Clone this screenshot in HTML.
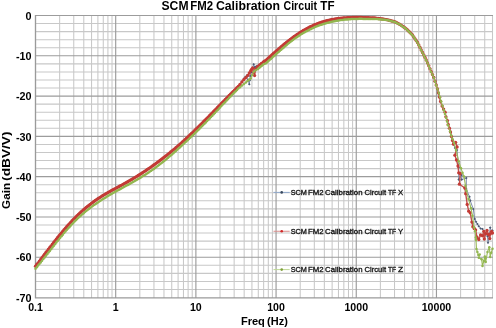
<!DOCTYPE html>
<html><head><meta charset="utf-8"><style>html,body{margin:0;padding:0;background:#fff;width:496px;height:328px;overflow:hidden}</style></head>
<body><svg width="496" height="328" viewBox="0 0 496 328" style="display:block;will-change:transform"><path d="M35.00 23.56H493.00M35.00 31.62H493.00M35.00 39.67H493.00M35.00 47.73H493.00M35.00 63.85H493.00M35.00 71.91H493.00M35.00 79.96H493.00M35.00 88.02H493.00M35.00 104.14H493.00M35.00 112.20H493.00M35.00 120.25H493.00M35.00 128.31H493.00M35.00 144.43H493.00M35.00 152.49H493.00M35.00 160.54H493.00M35.00 168.60H493.00M35.00 184.72H493.00M35.00 192.78H493.00M35.00 200.83H493.00M35.00 208.89H493.00M35.00 225.01H493.00M35.00 233.07H493.00M35.00 241.12H493.00M35.00 249.18H493.00M35.00 265.30H493.00M35.00 273.36H493.00M35.00 281.41H493.00M35.00 289.47H493.00M59.64 15.00V298.03M73.76 15.00V298.03M83.78 15.00V298.03M91.55 15.00V298.03M97.90 15.00V298.03M103.27 15.00V298.03M107.92 15.00V298.03M112.02 15.00V298.03M139.83 15.00V298.03M153.95 15.00V298.03M163.97 15.00V298.03M171.74 15.00V298.03M178.09 15.00V298.03M183.46 15.00V298.03M188.11 15.00V298.03M192.21 15.00V298.03M220.02 15.00V298.03M234.14 15.00V298.03M244.16 15.00V298.03M251.93 15.00V298.03M258.28 15.00V298.03M263.65 15.00V298.03M268.30 15.00V298.03M272.40 15.00V298.03M300.21 15.00V298.03M314.33 15.00V298.03M324.35 15.00V298.03M332.12 15.00V298.03M338.47 15.00V298.03M343.84 15.00V298.03M348.49 15.00V298.03M352.59 15.00V298.03M380.40 15.00V298.03M394.52 15.00V298.03M404.54 15.00V298.03M412.31 15.00V298.03M418.66 15.00V298.03M424.03 15.00V298.03M428.68 15.00V298.03M432.78 15.00V298.03M460.59 15.00V298.03M474.71 15.00V298.03M484.73 15.00V298.03M492.50 15.00V298.03" stroke="#c8c8c8" stroke-width="1.05" fill="none"/>
<path d="M35.00 15.50H493.00M35.00 55.79H493.00M35.00 96.08H493.00M35.00 136.37H493.00M35.00 176.66H493.00M35.00 216.95H493.00M35.00 257.24H493.00M35.50 15.00V298.03M115.69 15.00V298.03M195.88 15.00V298.03M276.07 15.00V298.03M356.26 15.00V298.03M436.45 15.00V298.03" stroke="#9c9c9c" stroke-width="1.15" fill="none"/>
<path d="M35.50 15.00V297.93H493.00" stroke="#9a9a9a" stroke-width="1.2" fill="none"/>
<defs>
<marker id="mb" markerUnits="userSpaceOnUse" markerWidth="4" markerHeight="4" refX="2" refY="2" overflow="visible"><path d="M2 0.7L3.3 2L2 3.3L0.7 2Z" fill="#4d5a73"/></marker>
<marker id="mr" markerUnits="userSpaceOnUse" markerWidth="4" markerHeight="4" refX="2" refY="2" overflow="visible"><circle cx="2" cy="2" r="1.65" fill="#c33b36"/></marker>
<marker id="mg" markerUnits="userSpaceOnUse" markerWidth="4" markerHeight="4" refX="2" refY="2" overflow="visible"><circle cx="2" cy="2" r="1.25" fill="#92b650"/></marker>
</defs>
<polyline points="35.5,266.2 36.8,264.5 38.1,262.8 39.4,261.1 40.7,259.4 42.0,257.6 43.3,255.9 44.6,254.2 45.9,252.5 47.2,250.8 48.5,249.1 49.8,247.4 51.1,245.8 52.4,244.1 53.7,242.4 55.0,240.8 56.3,239.2 57.6,237.5 58.9,235.9 60.2,234.3 61.5,232.8 62.8,231.2 64.1,229.7 65.4,228.2 66.7,226.7 68.0,225.2 69.3,223.8 70.6,222.4 71.9,221.0 73.2,219.6 74.5,218.3 75.8,217.0 77.1,215.7 78.4,214.4 79.7,213.2 81.0,212.0 82.3,210.8 83.6,209.7 84.9,208.6 86.2,207.5 87.5,206.4 88.8,205.4 90.1,204.4 91.4,203.4 92.7,202.4 94.0,201.4 95.3,200.5 96.6,199.6 97.9,198.7 99.2,197.9 100.5,197.1 101.8,196.2 103.1,195.4 104.4,194.6 105.7,193.9 107.0,193.1 108.3,192.4 109.6,191.6 110.9,190.9 112.2,190.2 113.5,189.5 114.8,188.8 116.1,188.1 117.4,187.4 118.7,186.7 120.0,186.0 121.3,185.3 122.6,184.6 123.9,183.8 125.2,183.1 126.5,182.4 127.8,181.7 129.1,180.9 130.4,180.2 131.7,179.4 133.0,178.6 134.3,177.8 135.6,177.1 136.9,176.3 138.2,175.5 139.5,174.6 140.8,173.8 142.1,173.0 143.4,172.1 144.7,171.3 146.0,170.4 147.3,169.5 148.6,168.6 149.9,167.8 151.2,166.8 152.5,165.9 153.8,165.0 155.1,164.1 156.4,163.1 157.7,162.2 159.0,161.2 160.3,160.2 161.6,159.2 162.9,158.2 164.2,157.2 165.5,156.2 166.8,155.2 168.1,154.1 169.4,153.1 170.7,152.0 172.0,151.0 173.3,149.9 174.6,148.8 175.9,147.7 177.2,146.6 178.5,145.4 179.8,144.3 181.1,143.1 182.4,142.0 183.7,140.8 185.0,139.6 186.3,138.4 187.6,137.2 188.9,136.0 190.2,134.7 191.5,133.5 192.8,132.3 194.1,131.0 195.4,129.7 196.7,128.5 198.0,127.2 199.3,125.9 200.6,124.6 201.9,123.3 203.2,122.0 204.5,120.7 205.8,119.4 207.1,118.1 208.4,116.8 209.7,115.4 211.0,114.1 212.3,112.8 213.6,111.5 214.9,110.1 216.2,108.8 217.5,107.5 218.8,106.1 220.1,104.8 221.4,103.5 222.7,102.1 224.0,100.8 225.3,99.5 226.6,98.2 227.9,96.8 229.2,95.5 230.5,94.2 231.8,92.9 233.1,91.6 234.4,90.3 235.7,89.0 237.0,87.7 238.3,86.5 240.0,84.3 241.9,81.9 243.9,78.5 245.4,77.0 246.8,75.6 248.1,79.9 249.3,84.3 249.8,80.2 250.2,76.0 251.4,72.1 252.5,68.2 253.7,64.3 254.6,67.3 255.8,66.7 257.1,66.0 258.3,65.4 259.5,64.8 261.5,63.3 263.4,61.8 264.5,61.2 265.6,60.6 266.9,59.4 268.2,58.2 269.5,57.0 270.8,55.9 272.1,54.7 273.4,53.5 274.7,52.4 276.0,51.2 277.3,50.1 278.6,49.0 279.9,47.8 281.2,46.7 282.5,45.6 283.8,44.5 285.1,43.5 286.4,42.4 287.7,41.4 289.0,40.4 290.3,39.4 291.6,38.4 292.9,37.4 294.2,36.5 295.5,35.6 296.8,34.7 298.1,33.8 299.4,32.9 300.7,32.1 302.0,31.3 303.3,30.5 304.6,29.8 305.9,29.1 307.2,28.4 308.5,27.7 309.8,27.0 311.1,26.4 312.4,25.8 313.7,25.2 315.0,24.6 316.3,24.1 317.6,23.6 318.9,23.1 320.2,22.7 321.5,22.2 322.8,21.8 324.1,21.4 325.4,21.1 326.7,20.7 328.0,20.4 329.3,20.1 330.6,19.8 331.9,19.5 333.2,19.3 334.5,19.1 335.8,18.9 337.1,18.7 338.4,18.5 339.7,18.3 341.0,18.2 342.3,18.1 343.6,18.0 344.9,17.9 346.2,17.8 347.5,17.7 348.8,17.6 350.1,17.6 351.4,17.6 352.7,17.5 354.0,17.5 355.3,17.5 356.6,17.5 357.9,17.5 359.2,17.5 360.5,17.5 361.8,17.5 363.1,17.6 364.4,17.6 365.7,17.6 367.0,17.7 368.3,17.7 369.6,17.8 370.9,17.8 372.2,17.9 373.4,18.0 374.7,18.0 376.0,18.1 377.3,18.3 378.6,18.5 379.8,18.7 381.1,18.8 382.4,19.0 383.7,19.2 384.9,19.4 386.2,19.6 387.5,19.8 388.8,20.1 390.0,20.5 391.2,20.8 392.5,21.2 393.8,21.5 395.0,21.9 396.2,22.5 397.5,23.1 398.8,23.8 400.0,24.4 401.2,25.3 402.5,26.1 403.8,27.0 405.0,27.9 406.2,28.8 407.5,30.0 408.8,31.2 410.0,32.5 411.2,33.8 412.5,35.0 413.8,36.9 415.0,38.8 416.2,40.6 417.5,42.5 418.8,45.0 420.0,47.5 421.2,50.0 422.5,52.5 423.8,55.0 425.0,57.5 426.2,60.0 427.5,62.9 428.8,65.8 430.0,68.8 431.2,71.7 432.5,74.6 433.8,77.5 435.0,81.2 436.2,85.0 437.5,88.8 438.5,93.0 439.6,97.2 440.6,101.5 442.1,106.1 443.6,109.1 445.1,112.2 445.9,116.8 447.4,120.6 448.2,124.4 449.4,128.2 450.5,132.0 451.5,136.6 452.5,140.4 453.5,144.2 455.0,148.0 457.0,150.0 458.7,167.4 458.7,179.6 461.7,175.0 461.7,179.6 466.3,178.0 466.3,189.0 469.5,196.8 470.2,200.6 473.3,209.0 474.7,218.9 476.0,221.7 477.4,224.0 478.8,226.2 480.6,228.5 482.5,229.0 485.2,233.6 487.5,236.3 488.0,242.7 489.3,236.3 490.2,227.6 491.6,231.7 492.5,230.5" stroke="#7d8cab" stroke-width="1.0" fill="none" stroke-linejoin="round" marker-start="url(#mb)" marker-mid="url(#mb)" marker-end="url(#mb)"/>
<polyline points="35.5,266.2 36.8,264.5 38.1,262.8 39.4,261.1 40.7,259.4 42.0,257.6 43.3,255.9 44.6,254.2 45.9,252.5 47.2,250.8 48.5,249.1 49.8,247.4 51.1,245.8 52.4,244.1 53.7,242.4 55.0,240.8 56.3,239.2 57.6,237.5 58.9,235.9 60.2,234.3 61.5,232.8 62.8,231.2 64.1,229.7 65.4,228.2 66.7,226.7 68.0,225.2 69.3,223.8 70.6,222.4 71.9,221.0 73.2,219.6 74.5,218.3 75.8,217.0 77.1,215.7 78.4,214.4 79.7,213.2 81.0,212.0 82.3,210.8 83.6,209.7 84.9,208.6 86.2,207.5 87.5,206.4 88.8,205.4 90.1,204.4 91.4,203.4 92.7,202.4 94.0,201.4 95.3,200.5 96.6,199.6 97.9,198.7 99.2,197.9 100.5,197.1 101.8,196.2 103.1,195.4 104.4,194.6 105.7,193.9 107.0,193.1 108.3,192.4 109.6,191.6 110.9,190.9 112.2,190.2 113.5,189.5 114.8,188.8 116.1,188.1 117.4,187.4 118.7,186.7 120.0,186.0 121.3,185.3 122.6,184.6 123.9,183.8 125.2,183.1 126.5,182.4 127.8,181.7 129.1,180.9 130.4,180.2 131.7,179.4 133.0,178.6 134.3,177.8 135.6,177.1 136.9,176.3 138.2,175.5 139.5,174.6 140.8,173.8 142.1,173.0 143.4,172.1 144.7,171.3 146.0,170.4 147.3,169.5 148.6,168.6 149.9,167.8 151.2,166.8 152.5,165.9 153.8,165.0 155.1,164.1 156.4,163.1 157.7,162.2 159.0,161.2 160.3,160.2 161.6,159.2 162.9,158.2 164.2,157.2 165.5,156.2 166.8,155.2 168.1,154.1 169.4,153.1 170.7,152.0 172.0,151.0 173.3,149.9 174.6,148.8 175.9,147.7 177.2,146.6 178.5,145.4 179.8,144.3 181.1,143.1 182.4,142.0 183.7,140.8 185.0,139.6 186.3,138.4 187.6,137.2 188.9,136.0 190.2,134.7 191.5,133.5 192.8,132.3 194.1,131.0 195.4,129.7 196.7,128.5 198.0,127.2 199.3,125.9 200.6,124.6 201.9,123.3 203.2,122.0 204.5,120.7 205.8,119.4 207.1,118.1 208.4,116.8 209.7,115.4 211.0,114.1 212.3,112.8 213.6,111.5 214.9,110.1 216.2,108.8 217.5,107.5 218.8,106.1 220.1,104.8 221.4,103.5 222.7,102.1 224.0,100.8 225.3,99.5 226.6,98.2 227.9,96.8 229.2,95.5 230.5,94.2 231.8,92.9 233.1,91.6 234.4,90.3 235.7,89.0 237.0,87.7 238.3,86.5 240.0,84.3 241.9,81.9 243.9,79.6 245.8,77.6 247.8,75.4 249.3,73.0 250.7,70.7 251.7,69.2 252.7,67.9 253.6,72.5 254.6,75.6 255.6,68.9 257.5,66.7 259.5,64.8 261.5,63.3 263.4,61.8 264.5,61.2 265.6,60.6 266.9,59.4 268.2,58.2 269.5,57.0 270.8,55.9 272.1,54.7 273.4,53.5 274.7,52.4 276.0,51.2 277.3,50.1 278.6,49.0 279.9,47.8 281.2,46.7 282.5,45.6 283.8,44.5 285.1,43.5 286.4,42.4 287.7,41.4 289.0,40.4 290.3,39.4 291.6,38.4 292.9,37.4 294.2,36.5 295.5,35.6 296.8,34.7 298.1,33.8 299.4,32.9 300.7,32.1 302.0,31.3 303.3,30.5 304.6,29.8 305.9,29.1 307.2,28.4 308.5,27.7 309.8,27.0 311.1,26.4 312.4,25.8 313.7,25.2 315.0,24.6 316.3,24.1 317.6,23.6 318.9,23.1 320.2,22.7 321.5,22.2 322.8,21.8 324.1,21.4 325.4,21.1 326.7,20.7 328.0,20.4 329.3,20.1 330.6,19.8 331.9,19.5 333.2,19.3 334.5,19.1 335.8,18.9 337.1,18.7 338.4,18.5 339.7,18.3 341.0,18.2 342.3,18.1 343.6,18.0 344.9,17.9 346.2,17.8 347.5,17.7 348.8,17.6 350.1,17.6 351.4,17.6 352.7,17.5 354.0,17.5 355.3,17.5 356.6,17.5 357.9,17.5 359.2,17.5 360.5,17.5 361.8,17.5 363.1,17.6 364.4,17.6 365.7,17.6 367.0,17.7 368.3,17.7 369.6,17.8 370.9,17.8 372.2,17.9 373.4,18.0 374.7,18.0 376.0,18.1 377.3,18.3 378.6,18.5 379.8,18.7 381.1,18.8 382.4,19.0 383.7,19.2 384.9,19.4 386.2,19.6 387.5,19.8 388.8,20.1 390.0,20.5 391.2,20.8 392.5,21.2 393.8,21.5 395.0,21.9 396.2,22.5 397.5,23.1 398.8,23.8 400.0,24.4 401.2,25.3 402.5,26.1 403.8,27.0 405.0,27.9 406.2,28.8 407.5,30.0 408.8,31.2 410.0,32.5 411.2,33.8 412.5,35.0 413.8,36.9 415.0,38.8 416.2,40.6 417.5,42.5 418.8,45.0 420.0,47.5 421.2,50.0 422.5,52.5 423.8,55.0 425.0,57.5 426.2,60.0 427.5,62.9 428.8,65.8 430.0,68.8 431.2,71.7 432.5,74.6 433.8,77.5 435.0,81.2 436.2,85.0 437.5,88.8 438.5,93.0 439.6,97.2 440.6,101.5 442.1,106.1 443.6,109.1 445.1,112.2 445.9,116.8 447.4,120.6 448.2,124.4 449.4,128.2 450.5,132.0 451.5,136.6 452.5,140.4 453.5,144.2 455.6,142.3 457.1,146.9 454.9,155.2 456.5,160.0 458.0,166.0 458.7,172.8 460.2,173.5 459.4,184.2 464.8,188.0 465.7,193.7 467.2,204.4 468.7,211.2 470.2,212.8 471.9,222.1 472.9,226.7 474.2,228.5 475.6,229.9 477.0,237.2 478.8,239.5 480.6,234.9 482.5,235.8 483.8,231.3 484.3,239.0 485.7,233.6 487.0,230.4 488.4,234.5 489.8,238.6 490.2,234.0 491.6,231.3 492.5,233.1" stroke="#c0504d" stroke-width="1.4" fill="none" stroke-linejoin="round" marker-start="url(#mr)" marker-mid="url(#mr)" marker-end="url(#mr)"/>
<polyline points="35.5,268.8 36.8,267.2 38.1,265.6 39.4,264.0 40.7,262.4 42.0,260.8 43.3,259.1 44.6,257.5 45.9,255.8 47.2,254.2 48.5,252.5 49.8,250.9 51.1,249.2 52.4,247.6 53.7,245.9 55.0,244.3 56.3,242.6 57.6,241.0 58.9,239.4 60.2,237.8 61.5,236.2 62.8,234.7 64.1,233.1 65.4,231.6 66.7,230.1 68.0,228.6 69.3,227.2 70.6,225.7 71.9,224.3 73.2,223.0 74.5,221.6 75.8,220.3 77.1,219.1 78.4,217.8 79.7,216.6 81.0,215.5 82.3,214.3 83.6,213.2 84.9,212.1 86.2,211.0 87.5,210.0 88.8,209.0 90.1,208.0 91.4,207.0 92.7,206.0 94.0,205.1 95.3,204.2 96.6,203.3 97.9,202.4 99.2,201.5 100.5,200.7 101.8,199.8 103.1,199.0 104.4,198.2 105.7,197.4 107.0,196.6 108.3,195.8 109.6,195.1 110.9,194.3 112.2,193.6 113.5,192.8 114.8,192.1 116.1,191.3 117.4,190.6 118.7,189.9 120.0,189.2 121.3,188.5 122.6,187.7 123.9,187.0 125.2,186.3 126.5,185.6 127.8,184.9 129.1,184.2 130.4,183.4 131.7,182.7 133.0,182.0 134.3,181.2 135.6,180.5 136.9,179.7 138.2,179.0 139.5,178.2 140.8,177.4 142.1,176.6 143.4,175.8 144.7,175.0 146.0,174.2 147.3,173.3 148.6,172.5 149.9,171.6 151.2,170.7 152.5,169.8 153.8,168.9 155.1,168.0 156.4,167.0 157.7,166.0 159.0,165.1 160.3,164.1 161.6,163.0 162.9,162.0 164.2,160.9 165.5,159.9 166.8,158.8 168.1,157.7 169.4,156.6 170.7,155.5 172.0,154.4 173.3,153.2 174.6,152.1 175.9,150.9 177.2,149.7 178.5,148.6 179.8,147.4 181.1,146.2 182.4,145.0 183.7,143.8 185.0,142.6 186.3,141.4 187.6,140.2 188.9,139.0 190.2,137.7 191.5,136.5 192.8,135.2 194.1,134.0 195.4,132.7 196.7,131.5 198.0,130.2 199.3,128.9 200.6,127.6 201.9,126.3 203.2,125.0 204.5,123.7 205.8,122.4 207.1,121.1 208.4,119.7 209.7,118.4 211.0,117.0 212.3,115.7 213.6,114.3 214.9,112.9 216.2,111.5 217.5,110.2 218.8,108.8 220.1,107.4 221.4,106.0 222.7,104.6 224.0,103.3 225.3,101.9 226.6,100.5 227.9,99.2 229.2,97.8 230.5,96.5 231.8,95.1 233.1,93.8 234.4,92.5 235.7,91.2 237.0,89.9 238.3,88.6 240.0,87.3 242.0,85.6 244.0,84.0 245.9,82.4 247.5,81.0 249.1,79.8 250.7,78.5 252.2,75.0 253.7,71.7 255.6,70.3 257.6,69.2 258.6,68.3 259.7,67.5 260.8,66.6 261.8,65.7 262.9,64.8 264.0,63.9 265.6,63.5 266.9,62.4 268.2,61.2 269.5,60.1 270.8,58.9 272.1,57.8 273.4,56.6 274.7,55.4 276.0,54.3 277.3,53.1 278.6,52.0 279.9,50.8 281.2,49.7 282.5,48.5 283.8,47.4 285.1,46.3 286.4,45.2 287.7,44.1 289.0,43.1 290.3,42.0 291.6,41.0 292.9,40.0 294.2,39.1 295.5,38.1 296.8,37.2 298.1,36.3 299.4,35.5 300.7,34.6 302.0,33.8 303.3,33.1 304.6,32.3 305.9,31.6 307.2,30.9 308.5,30.2 309.8,29.5 311.1,28.9 312.4,28.3 313.7,27.7 315.0,27.1 316.3,26.6 317.6,26.1 318.9,25.6 320.2,25.1 321.5,24.7 322.8,24.2 324.1,23.8 325.4,23.4 326.7,23.0 328.0,22.7 329.3,22.4 330.6,22.0 331.9,21.7 333.2,21.4 334.5,21.2 335.8,20.9 337.1,20.7 338.4,20.5 339.7,20.3 341.0,20.1 342.3,19.9 343.6,19.8 344.9,19.6 346.2,19.5 347.5,19.4 348.8,19.3 350.1,19.2 351.4,19.1 352.7,19.0 354.0,19.0 355.3,18.9 356.6,18.9 357.9,18.9 359.2,18.8 360.5,18.8 361.8,18.8 363.1,18.9 364.4,18.9 365.7,18.9 367.0,18.9 368.3,19.0 369.6,19.0 370.9,19.0 372.2,19.0 373.4,19.0 374.7,19.0 376.0,19.0 377.3,19.1 378.6,19.2 379.8,19.3 381.1,19.4 382.4,19.6 383.7,19.7 384.9,19.8 386.2,19.9 387.5,20.0 388.8,20.4 390.0,20.7 391.2,21.1 392.5,21.4 393.8,21.8 395.0,22.1 396.2,22.7 397.5,23.4 398.8,24.0 400.0,24.6 401.2,25.5 402.5,26.4 403.8,27.2 405.0,28.1 406.2,29.0 407.5,30.2 408.8,31.5 410.0,32.7 411.2,34.0 412.5,35.2 413.8,37.1 415.0,39.0 416.2,40.8 417.5,42.7 418.8,45.2 420.0,47.7 421.2,50.2 422.5,52.7 423.8,55.2 425.0,57.7 426.2,60.2 427.5,63.1 428.8,66.1 430.0,69.0 431.2,71.9 432.5,74.8 433.8,77.7 435.0,81.5 436.2,85.2 437.5,89.0 438.8,93.0 440.0,97.0 441.2,101.4 442.5,105.8 443.8,110.2 445.0,114.0 446.2,117.7 447.1,121.5 448.0,125.2 450.0,131.4 451.2,135.2 452.5,139.0 454.1,143.0 456.0,150.0 458.7,161.3 461.0,168.2 462.5,172.8 464.0,176.6 465.5,185.7 466.4,190.7 468.5,199.0 471.0,208.2 472.5,215.8 474.0,227.3 475.0,231.2 475.8,237.5 476.0,240.0 476.5,249.1 477.4,251.9 478.4,255.1 479.7,254.6 478.8,257.8 481.6,259.2 482.5,266.1 483.8,261.0 484.8,256.5 485.2,258.3 485.7,262.0 487.5,251.9 489.3,247.3 490.2,256.9 491.2,252.8 492.5,248.7" stroke="#9bbb59" stroke-width="1.1" fill="none" stroke-linejoin="round" marker-start="url(#mg)" marker-mid="url(#mg)" marker-end="url(#mg)"/>
<text x="161.5" y="9.9" font-family="&apos;Liberation Sans&apos;, sans-serif" font-weight="bold" font-size="12.5" textLength="27.0" lengthAdjust="spacingAndGlyphs" fill="#000" >SCM</text><text x="190.3" y="9.9" font-family="&apos;Liberation Sans&apos;, sans-serif" font-weight="bold" font-size="12.5" textLength="22.8" lengthAdjust="spacingAndGlyphs" fill="#000" >FM2</text><text x="215.9" y="9.9" font-family="&apos;Liberation Sans&apos;, sans-serif" font-weight="bold" font-size="12.5" textLength="64.2" lengthAdjust="spacingAndGlyphs" fill="#000" >Calibration</text><text x="283.5" y="9.9" font-family="&apos;Liberation Sans&apos;, sans-serif" font-weight="bold" font-size="12.5" textLength="33.6" lengthAdjust="spacingAndGlyphs" fill="#000" >Circuit</text><text x="320.3" y="9.9" font-family="&apos;Liberation Sans&apos;, sans-serif" font-weight="bold" font-size="12.5" textLength="14.2" lengthAdjust="spacingAndGlyphs" fill="#000" >TF</text>
<text x="31.6" y="19.70" font-family="&apos;Liberation Sans&apos;, sans-serif" font-weight="bold" font-size="10.8" text-anchor="end" fill="#000">0</text>
<text x="31.6" y="59.99" font-family="&apos;Liberation Sans&apos;, sans-serif" font-weight="bold" font-size="10.8" text-anchor="end" fill="#000">-10</text>
<text x="31.6" y="100.28" font-family="&apos;Liberation Sans&apos;, sans-serif" font-weight="bold" font-size="10.8" text-anchor="end" fill="#000">-20</text>
<text x="31.6" y="140.57" font-family="&apos;Liberation Sans&apos;, sans-serif" font-weight="bold" font-size="10.8" text-anchor="end" fill="#000">-30</text>
<text x="31.6" y="180.86" font-family="&apos;Liberation Sans&apos;, sans-serif" font-weight="bold" font-size="10.8" text-anchor="end" fill="#000">-40</text>
<text x="31.6" y="221.15" font-family="&apos;Liberation Sans&apos;, sans-serif" font-weight="bold" font-size="10.8" text-anchor="end" fill="#000">-50</text>
<text x="31.6" y="261.44" font-family="&apos;Liberation Sans&apos;, sans-serif" font-weight="bold" font-size="10.8" text-anchor="end" fill="#000">-60</text>
<text x="31.6" y="301.73" font-family="&apos;Liberation Sans&apos;, sans-serif" font-weight="bold" font-size="10.8" text-anchor="end" fill="#000">-70</text>
<text x="35.50" y="311.3" font-family="&apos;Liberation Sans&apos;, sans-serif" font-weight="bold" font-size="10.6" text-anchor="middle" fill="#000">0.1</text>
<text x="115.69" y="311.3" font-family="&apos;Liberation Sans&apos;, sans-serif" font-weight="bold" font-size="10.6" text-anchor="middle" fill="#000">1</text>
<text x="195.88" y="311.3" font-family="&apos;Liberation Sans&apos;, sans-serif" font-weight="bold" font-size="10.6" text-anchor="middle" fill="#000">10</text>
<text x="276.07" y="311.3" font-family="&apos;Liberation Sans&apos;, sans-serif" font-weight="bold" font-size="10.6" text-anchor="middle" fill="#000">100</text>
<text x="356.26" y="311.3" font-family="&apos;Liberation Sans&apos;, sans-serif" font-weight="bold" font-size="10.6" text-anchor="middle" fill="#000">1000</text>
<text x="436.45" y="311.3" font-family="&apos;Liberation Sans&apos;, sans-serif" font-weight="bold" font-size="10.6" text-anchor="middle" fill="#000">10000</text>
<text x="240.9" y="324.7" font-family="&apos;Liberation Sans&apos;, sans-serif" font-weight="bold" font-size="10.4" textLength="24.0" lengthAdjust="spacingAndGlyphs" fill="#000" >Freq</text><text x="267.1" y="324.7" font-family="&apos;Liberation Sans&apos;, sans-serif" font-weight="bold" font-size="10.4" textLength="20.8" lengthAdjust="spacingAndGlyphs" fill="#000" >(Hz)</text>
<g transform="translate(10.1,209.2) rotate(-90)"><text x="0.3" y="0" font-family="&apos;Liberation Sans&apos;, sans-serif" font-weight="bold" font-size="10.4" textLength="26.0" lengthAdjust="spacingAndGlyphs" fill="#000" >Gain</text><text x="28.3" y="0" font-family="&apos;Liberation Sans&apos;, sans-serif" font-weight="bold" font-size="10.4" textLength="49.4" lengthAdjust="spacingAndGlyphs" fill="#000" >(dBV/V)</text></g>
<path d="M273.5 192.4H289.7" stroke="#8fa8cc" stroke-width="1"/>
<circle cx="281.7" cy="192.4" r="1.3" fill="#3a4a60"/>
<text x="290.7" y="195.0" font-family="&apos;Liberation Sans&apos;, sans-serif" font-weight="normal" font-size="7.3" textLength="16.2" lengthAdjust="spacingAndGlyphs" fill="#111" stroke="#111" stroke-width="0.3">SCM</text><text x="308.1" y="195.0" font-family="&apos;Liberation Sans&apos;, sans-serif" font-weight="normal" font-size="7.3" textLength="15.6" lengthAdjust="spacingAndGlyphs" fill="#111" stroke="#111" stroke-width="0.3">FM2</text><text x="325.1" y="195.0" font-family="&apos;Liberation Sans&apos;, sans-serif" font-weight="normal" font-size="7.3" textLength="37.4" lengthAdjust="spacingAndGlyphs" fill="#111" stroke="#111" stroke-width="0.3">Calibration</text><text x="364.5" y="195.0" font-family="&apos;Liberation Sans&apos;, sans-serif" font-weight="normal" font-size="7.3" textLength="21.6" lengthAdjust="spacingAndGlyphs" fill="#111" stroke="#111" stroke-width="0.3">Circuit</text><text x="387.9" y="195.0" font-family="&apos;Liberation Sans&apos;, sans-serif" font-weight="normal" font-size="7.3" textLength="8.2" lengthAdjust="spacingAndGlyphs" fill="#111" stroke="#111" stroke-width="0.3">TF</text><text x="398.1" y="195.0" font-family="&apos;Liberation Sans&apos;, sans-serif" font-weight="normal" font-size="7.3" textLength="5.2" lengthAdjust="spacingAndGlyphs" fill="#111" stroke="#111" stroke-width="0.3">X</text>
<path d="M273.5 231.25H289.7" stroke="#d98c8a" stroke-width="1"/>
<circle cx="281.7" cy="231.25" r="1.3" fill="#d02828"/>
<text x="290.7" y="233.7" font-family="&apos;Liberation Sans&apos;, sans-serif" font-weight="normal" font-size="7.3" textLength="16.2" lengthAdjust="spacingAndGlyphs" fill="#111" stroke="#111" stroke-width="0.3">SCM</text><text x="308.1" y="233.7" font-family="&apos;Liberation Sans&apos;, sans-serif" font-weight="normal" font-size="7.3" textLength="15.6" lengthAdjust="spacingAndGlyphs" fill="#111" stroke="#111" stroke-width="0.3">FM2</text><text x="325.1" y="233.7" font-family="&apos;Liberation Sans&apos;, sans-serif" font-weight="normal" font-size="7.3" textLength="37.4" lengthAdjust="spacingAndGlyphs" fill="#111" stroke="#111" stroke-width="0.3">Calibration</text><text x="364.5" y="233.7" font-family="&apos;Liberation Sans&apos;, sans-serif" font-weight="normal" font-size="7.3" textLength="21.6" lengthAdjust="spacingAndGlyphs" fill="#111" stroke="#111" stroke-width="0.3">Circuit</text><text x="387.9" y="233.7" font-family="&apos;Liberation Sans&apos;, sans-serif" font-weight="normal" font-size="7.3" textLength="8.2" lengthAdjust="spacingAndGlyphs" fill="#111" stroke="#111" stroke-width="0.3">TF</text><text x="398.1" y="233.7" font-family="&apos;Liberation Sans&apos;, sans-serif" font-weight="normal" font-size="7.3" textLength="5.2" lengthAdjust="spacingAndGlyphs" fill="#111" stroke="#111" stroke-width="0.3">Y</text>
<path d="M273.5 269.6H289.7" stroke="#bdd892" stroke-width="1"/>
<circle cx="281.7" cy="269.6" r="1.3" fill="#7f9f3a"/>
<text x="290.7" y="272.3" font-family="&apos;Liberation Sans&apos;, sans-serif" font-weight="normal" font-size="7.3" textLength="16.2" lengthAdjust="spacingAndGlyphs" fill="#111" stroke="#111" stroke-width="0.3">SCM</text><text x="308.1" y="272.3" font-family="&apos;Liberation Sans&apos;, sans-serif" font-weight="normal" font-size="7.3" textLength="15.6" lengthAdjust="spacingAndGlyphs" fill="#111" stroke="#111" stroke-width="0.3">FM2</text><text x="325.1" y="272.3" font-family="&apos;Liberation Sans&apos;, sans-serif" font-weight="normal" font-size="7.3" textLength="37.4" lengthAdjust="spacingAndGlyphs" fill="#111" stroke="#111" stroke-width="0.3">Calibration</text><text x="364.5" y="272.3" font-family="&apos;Liberation Sans&apos;, sans-serif" font-weight="normal" font-size="7.3" textLength="21.6" lengthAdjust="spacingAndGlyphs" fill="#111" stroke="#111" stroke-width="0.3">Circuit</text><text x="387.9" y="272.3" font-family="&apos;Liberation Sans&apos;, sans-serif" font-weight="normal" font-size="7.3" textLength="8.2" lengthAdjust="spacingAndGlyphs" fill="#111" stroke="#111" stroke-width="0.3">TF</text><text x="398.1" y="272.3" font-family="&apos;Liberation Sans&apos;, sans-serif" font-weight="normal" font-size="7.3" textLength="5.2" lengthAdjust="spacingAndGlyphs" fill="#111" stroke="#111" stroke-width="0.3">Z</text></svg></body></html>
